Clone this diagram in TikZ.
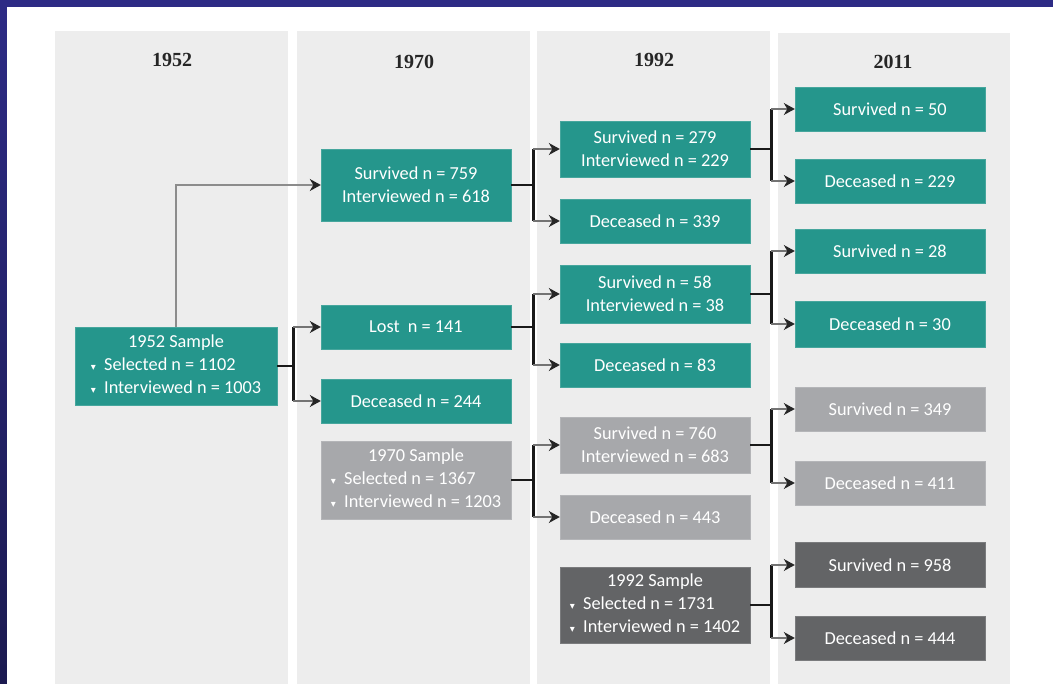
\documentclass[tikz,border=0pt]{standalone}
\usepackage{fontspec}
\setmainfont{Carlito}
\newfontfamily\headfont{Liberation Serif}
\newfontfamily\symfont{DejaVu Sans}
\usetikzlibrary{positioning,arrows.meta}

\definecolor{navyframe}{RGB}{45,43,133}
\definecolor{navydeep}{RGB}{27,26,80}
\definecolor{panelgray}{RGB}{237,237,237}
\definecolor{tealbox}{RGB}{37,150,140}
\definecolor{lightbox}{RGB}{167,168,171}
\definecolor{darkbox}{RGB}{99,100,102}

\newcommand{\bul}{{\symfont\fontsize{10}{10}\selectfont ▾}\ \ }
\newcommand{\samplebox}[3]{\begin{tabular}{@{}l@{}}\multicolumn{1}{c}{#1 Sample}\\ \bul Selected n = #2\\ \bul Interviewed n = #3\end{tabular}}

\tikzset{
  panel/.style={fill=panelgray, draw=none},
  year/.style={font=\headfont\bfseries\fontsize{20}{22}\selectfont, text=black!85},
  box/.style={rectangle, minimum width=190pt, minimum height=44pt, inner sep=2pt, align=center,
    text=white, font=\fontsize{18.3}{23}\selectfont},
  teal/.style={box, fill=tealbox, draw=tealbox!85!white},
  light/.style={box, fill=lightbox, draw=lightbox!85!white},
  dark/.style={box, fill=darkbox, draw=darkbox!85!white},
  fork/.style={line width=2.6pt, black!90},
  thinfork/.style={line width=1.4pt, black!90},
  branch/.style={line width=1.2pt, black!55, -{Stealth[length=11pt,width=12pt,inset=3.5pt,black!85]}},
  jump/.style={line width=1.4pt, black!45, -{Stealth[length=11pt,width=12pt,inset=3.5pt,black!85]}}
}

\begin{document}
\begin{tikzpicture}[x=1pt,y=-1pt]
\useasboundingbox (0,0) rectangle (1053,684);
% frame and columns
\fill[navyframe] (0,0) rectangle (1053,7);
\shade[top color=navyframe, bottom color=navydeep] (0,0) rectangle (7,684);
\fill[white] (7,7) rectangle (1053,684);
\fill[panel] (55,31) rectangle (288,684);
\fill[panel] (297,31) rectangle (530,684);
\fill[panel] (537,31) rectangle (770,684);
\fill[panel] (778,33) rectangle (1010,684);
\node[year] (y52) at (172,60) {1952};
\node[year] (y70) at (414,62) {1970};
\node[year] (y92) at (654,60) {1992};
\node[year] (y11) at (893,62) {2011};

% 1952
\node[teal, minimum width=202pt, minimum height=78pt] (s52) at (176,366) {\samplebox{1952}{1102}{1003}};

% 1970
\node[teal, minimum height=72pt] (sv70) at (416,185) {Survived n = 759\\Interviewed n = 618};
\node[teal] (lost70) at (416,327) {Lost\ \ n = 141};
\node[teal] (dc70) at (416,401) {Deceased n = 244};
\node[light, minimum height=78pt] (s70) at (416,480) {\samplebox{1970}{1367}{1203}};

% 1992
\node[teal, minimum height=56pt] (sv92a) at (655,149) {Survived n = 279\\Interviewed n = 229};
\node[teal] (dc92a) at (655,221) {Deceased n = 339};
\node[teal, minimum height=58pt] (sv92b) at (655,294) {Survived n = 58\\Interviewed n = 38};
\node[teal] (dc92b) at (655,365) {Deceased n = 83};
\node[light, minimum height=56pt] (sv92c) at (655,445) {Survived n = 760\\Interviewed n = 683};
\node[light] (dc92c) at (655,517) {Deceased n = 443};
\node[dark, minimum height=76pt] (s92) at (655,605) {\samplebox{1992}{1731}{1402}};

% 2011
\node[teal] (sv11a) at (890,109) {Survived n = 50};
\node[teal] (dc11a) at (890,181) {Deceased n = 229};
\node[teal] (sv11b) at (890,251) {Survived n = 28};
\node[teal, minimum height=46pt] (dc11b) at (890,324) {Deceased n = 30};
\node[light] (sv11c) at (890,409) {Survived n = 349};
\node[light] (dc11c) at (890,483) {Deceased n = 411};
\node[dark, minimum height=45pt] (sv11d) at (890,565) {Survived n = 958};
\node[dark] (dc11d) at (890,638) {Deceased n = 444};

% 1952 -> 1970
\draw[jump] (s52.north) |- (sv70.west);
\draw[fork] (s52.east) -- ++(16,0) coordinate (f52);
\draw[fork] (f52 |- lost70) -- (f52 |- dc70);
\draw[branch] (f52 |- lost70) -- (lost70.west);
\draw[branch] (f52 |- dc70) -- (dc70.west);

% 1970 -> 1992
\draw[fork] (sv70.east) -- ++(22,0) coordinate (f70a);
\draw[fork] (f70a |- sv92a) -- (f70a |- dc92a);
\draw[branch] (f70a |- sv92a) -- (sv92a.west);
\draw[branch] (f70a |- dc92a) -- (dc92a.west);
\draw[fork] (lost70.east) -- ++(22,0) coordinate (f70b);
\draw[fork] (f70b |- sv92b) -- (f70b |- dc92b);
\draw[branch] (f70b |- sv92b) -- (sv92b.west);
\draw[branch] (f70b |- dc92b) -- (dc92b.west);
\draw[fork] (s70.east) -- ++(22,0) coordinate (f70c);
\draw[fork] (f70c |- sv92c) -- (f70c |- dc92c);
\draw[branch] (f70c |- sv92c) -- (sv92c.west);
\draw[branch] (f70c |- dc92c) -- (dc92c.west);

% 1992 -> 2011
\draw[fork] (sv92a.east) -- ++(21,0) coordinate (f92a);
\draw[fork] (f92a |- sv11a) -- (f92a |- dc11a);
\draw[branch] (f92a |- sv11a) -- (sv11a.west);
\draw[branch] (f92a |- dc11a) -- (dc11a.west);
\draw[thinfork] (sv92b.east) -- ++(21,0) coordinate (f92b);
\draw[fork] (f92b |- sv11b) -- (f92b |- dc11b);
\draw[branch] (f92b |- sv11b) -- (sv11b.west);
\draw[branch] (f92b |- dc11b) -- (dc11b.west);
\draw[fork] (sv92c.east) -- ++(21,0) coordinate (f92c);
\draw[fork] (f92c |- sv11c) -- (f92c |- dc11c);
\draw[branch] (f92c |- sv11c) -- (sv11c.west);
\draw[branch] (f92c |- dc11c) -- (dc11c.west);
\draw[thinfork] (s92.east) -- ++(21,0) coordinate (f92d);
\draw[fork] (f92d |- sv11d) -- (f92d |- dc11d);
\draw[branch] (f92d |- sv11d) -- (sv11d.west);
\draw[branch] (f92d |- dc11d) -- (dc11d.west);
\end{tikzpicture}
\end{document}
